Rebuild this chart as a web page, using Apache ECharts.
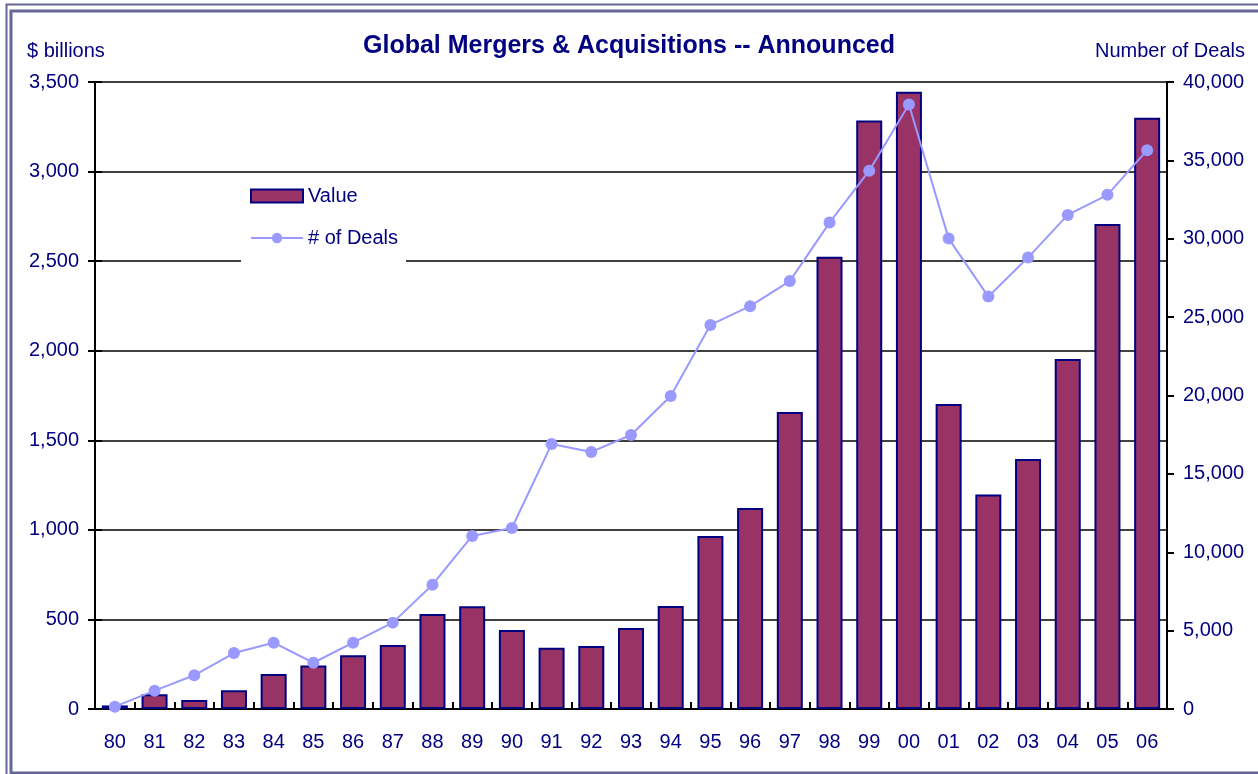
<!DOCTYPE html>
<html>
<head>
<meta charset="UTF-8">
<title>Global Mergers & Acquisitions</title>
<script type="text/javascript" src="https://cdn.jsdelivr.net/npm/echarts@6/dist/echarts.min.js"></script>
<style>
  html, body { margin: 0; padding: 0; background: #fff; }
</style>
</head>
<body>
<div id="main" style="width:1258px;height:774px"></div>
<script type="text/javascript">
// years (two digit labels)
var years = ['80','81','82','83','84','85','86','87','88','89','90','91','92','93',
             '94','95','96','97','98','99','00','01','02','03','04','05','06'];
// announced value, $ billions
var dealValue = [20, 83, 50, 105, 195, 243, 300, 357, 530, 574, 441, 342, 352, 452,
                 575, 966, 1122, 1658, 2525, 3285, 3445, 1703, 1198, 1396, 1954, 2708, 3300];
// number of deals
var dealCount = [150, 1170, 2150, 3570, 4230, 2950, 4230, 5510, 7930, 11040, 11550, 16900, 16400, 17480,
                 19970, 24500, 25700, 27300, 31030, 34340, 38560, 30010, 26310, 28800, 31520, 32800, 35650];

var navy = '#000080';
var fnt = 'Arial, "Liberation Sans", sans-serif';

var myChart = echarts.init(document.getElementById('main'));

function fmt(v) { return Number(v).toLocaleString('en-US'); }

var option = {
    animation: false,
    title: [{
        text: 'Global Mergers & Acquisitions -- Announced',
        left: 'center', top: 34, padding: 0,
        textStyle: { color: navy, fontFamily: fnt, fontSize: 25, fontWeight: 'bold' }
    }, {
        text: '$ billions',
        left: 27, top: 41, padding: 0,
        textStyle: { color: navy, fontFamily: fnt, fontSize: 20, fontWeight: 'normal' }
    }, {
        text: 'Number of Deals',
        right: 13, top: 41, padding: 0,
        textStyle: { color: navy, fontFamily: fnt, fontSize: 20, fontWeight: 'normal' }
    }],
    legend: {
        orient: 'vertical',
        left: 241, top: 176,
        padding: [10, 8, 16, 9],
        backgroundColor: '#fff',
        itemWidth: 52, itemHeight: 13, itemGap: 22,
        textStyle: { color: navy, fontFamily: fnt, fontSize: 20, lineHeight: 20 },
        data: [{ name: 'Value', icon: 'rect' }, { name: '# of Deals' }]
    },
    grid: { left: 95, right: 91, top: 82, bottom: 65 },
    xAxis: [{
        type: 'category',
        data: years,
        axisLine: { lineStyle: { color: '#000', width: 2 } },
        axisTick: { length: 7, lineStyle: { color: '#000', width: 2 } },
        axisLabel: { color: navy, fontFamily: fnt, fontSize: 20, margin: 23 }
    }, {
        type: 'category',
        data: years,
        position: 'bottom',
        axisLine: { show: true, lineStyle: { color: '#000', width: 2 } },
        axisTick: { show: true, inside: true, length: 7, lineStyle: { color: '#000', width: 2 } },
        axisLabel: { show: false }
    }],
    yAxis: [{
        type: 'value',
        min: 0, max: 3500, interval: 500,
        axisLine: { show: true, lineStyle: { color: '#000', width: 2 } },
        axisTick: { show: true, length: 7, lineStyle: { color: '#000', width: 2 } },
        axisLabel: { color: navy, fontFamily: fnt, fontSize: 20, margin: 16, formatter: fmt },
        splitLine: { lineStyle: { color: '#000', width: 1.5 } }
    }, {
        type: 'value',
        min: 0, max: 40000, interval: 5000,
        position: 'right',
        axisLine: { show: true, lineStyle: { color: '#000', width: 2 } },
        axisTick: { show: true, length: 7, lineStyle: { color: '#000', width: 2 } },
        axisLabel: { color: navy, fontFamily: fnt, fontSize: 20, margin: 16, formatter: fmt },
        splitLine: { show: false }
    }, {
        type: 'value',
        min: 0, max: 3500, interval: 500,
        position: 'left',
        axisLine: { show: true, lineStyle: { color: '#000', width: 2 } },
        axisTick: { show: true, inside: true, length: 7, lineStyle: { color: '#000', width: 2 } },
        axisLabel: { show: false },
        splitLine: { show: false }
    }],
    graphic: [{
        type: 'rect', silent: true,
        shape: { x: 6.5, y: 4.5, width: 1280, height: 790 },
        style: { fill: 'none', stroke: '#666699', lineWidth: 2 }
    }, {
        type: 'rect', silent: true,
        shape: { x: 11, y: 11, width: 1280, height: 762 },
        style: { fill: 'none', stroke: '#666699', lineWidth: 3 }
    }],
    series: [{
        name: 'Value',
        type: 'bar',
        data: dealValue,
        barWidth: 26,
        itemStyle: { color: '#993366', borderColor: navy, borderWidth: 2 }
    }, {
        name: '# of Deals',
        type: 'line',
        yAxisIndex: 1,
        data: dealCount,
        symbol: 'circle',
        symbolSize: 12,
        lineStyle: { color: '#9999ff', width: 2 },
        itemStyle: { color: '#9999ff' },
        z: 5
    }]
};
myChart.setOption(option);
</script>
</body>
</html>
